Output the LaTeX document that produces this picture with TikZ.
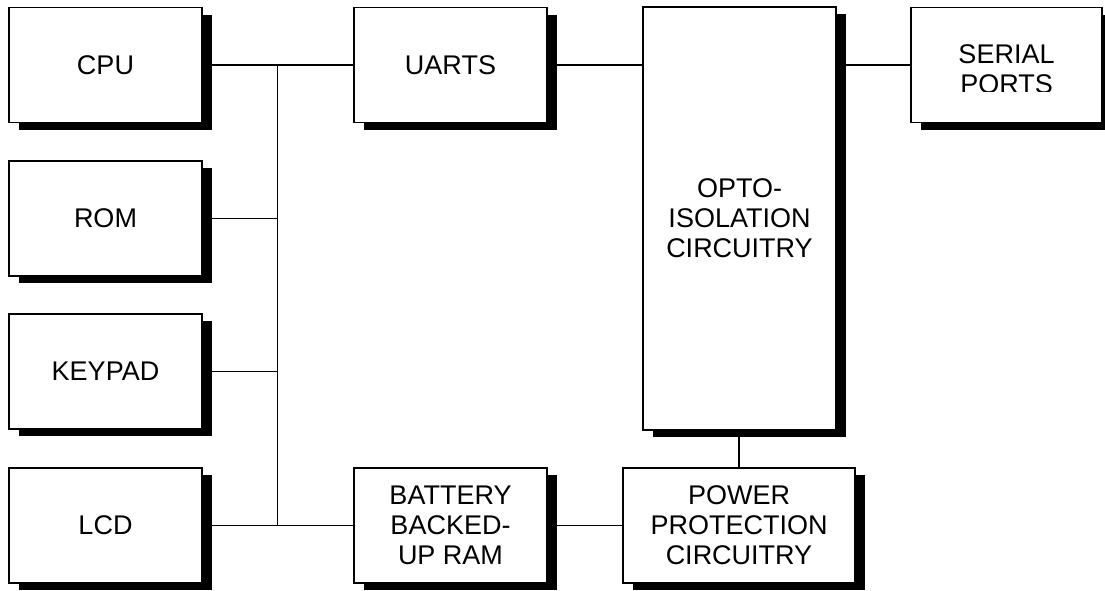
\documentclass[tikz,border=0pt]{standalone}
\usepackage{fontspec}
\setmainfont{Liberation Sans}
\usepackage{tikz}
\usetikzlibrary{positioning,calc,shadows}

\begin{document}
\begin{tikzpicture}[x=1pt,y=-1pt,
    blk/.style={draw,line width=1.5pt,fill=white,align=center,
        minimum width=193pt,minimum height=115pt,inner sep=0pt,
        font=\fontsize{27}{30}\selectfont,
        drop shadow={shadow xshift=10pt,shadow yshift=-7pt,opacity=1,fill=black}},
    wire/.style={line width=1.5pt}]
    \useasboundingbox[fill=white] (0,0) rectangle (1105,590);

    % Left column
    \foreach \name/\txt/\y in {cpu/CPU/65,rom/ROM/218.5,keypad/KEYPAD/371.5,lcd/LCD/525.5} {
        \node[blk] (\name) at (105.5,\y) {\txt};
    }

    % Right side
    \node[blk] (uarts) at (450.5,65) {UARTS};
    \node[blk,minimum height=423pt] (opto) at (739.5,218.5) {OPTO-\\ISOLATION\\CIRCUITRY};
    \node[blk,minimum width=191pt] (serial) at (1006.5,65) {};
    \begin{scope}
        \clip (911,7) rectangle (1102,91.5);
        \node[font=\fontsize{27}{30}\selectfont,align=center] (serialtxt) at (1006.5,69.5) {SERIAL\\PORTS};
    \end{scope}
    \node[blk] (bbram) at (450.5,525.5) {BATTERY\\BACKED-\\UP RAM};
    \node[blk,minimum width=232pt] (power) at (739,525.5) {POWER\\PROTECTION\\CIRCUITRY};

    % Bus
    \coordinate (bustop) at (277.7,65);
    \coordinate (busbot) at (277.7,525.5);
    \draw[wire] (bustop) -- (busbot);
    \draw[wire] (cpu.east) -- (uarts.west);
    \draw[wire] (lcd.east) -- (bbram.west);
    \foreach \name in {rom,keypad} {
        \draw[wire] (\name.east) -- (\name.east -| bustop);
    }

    % Links
    \draw[wire] (uarts.east) -- (opto.west |- uarts.east);
    \draw[wire] (opto.east |- serial.west) -- (serial.west);
    \draw[wire] (bbram.east) -- (power.west);
    \draw[wire] (opto.south -| power.north) -- (power.north);
\end{tikzpicture}
\end{document}
